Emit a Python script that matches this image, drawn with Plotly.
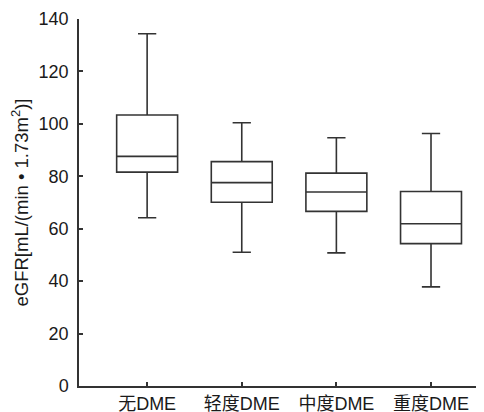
import plotly.graph_objects as go

categories = ["无DME", "轻度DME", "中度DME", "重度DME"]
lower = [64.2, 51.0, 50.8, 37.8]
q1 = [81.6, 70.1, 66.6, 54.3]
median = [87.6, 77.6, 74.0, 61.9]
q3 = [103.4, 85.6, 81.2, 74.2]
upper = [134.4, 100.4, 94.7, 96.3]
y_ticks = [0, 20, 40, 60, 80, 100, 120, 140]

line_col = "#333333"
font_fam = "Liberation Sans, Arial, Noto Sans CJK SC, sans-serif"

fig = go.Figure()
fig.add_trace(go.Box(
    x=categories, q1=q1, median=median, q3=q3,
    lowerfence=lower, upperfence=upper,
    boxpoints=False, whiskerwidth=0.3,
    fillcolor="rgba(255,255,255,0)",
    line=dict(color=line_col, width=1.6),
    showlegend=False,
))

# page body has an 8px margin, so the figure is sized/offset to compensate
fig.update_layout(
    width=476, height=404,
    margin=dict(l=71, r=0, t=11.4, b=26.4),
    paper_bgcolor="white", plot_bgcolor="white",
    boxmode="overlay", boxgap=0.08,
    font=dict(family=font_fam, size=18, color="#1a1a1a"),
    xaxis=dict(
        type="category", categoryorder="array", categoryarray=categories,
        range=[-0.72, 3.56],
        showline=True, linecolor=line_col, linewidth=1.5,
        ticks="inside", ticklen=4, tickwidth=1.5, tickcolor=line_col,
        showgrid=False, zeroline=False,
        tickfont=dict(size=18), ticklabelstandoff=1,
        automargin=False,
    ),
    yaxis=dict(
        range=[0, 140], tickvals=y_ticks,
        showline=True, linecolor=line_col, linewidth=1.5,
        ticks="inside", ticklen=4, tickwidth=1.5, tickcolor=line_col,
        showgrid=False, zeroline=False,
        tickfont=dict(size=18), ticklabelstandoff=5,
        automargin=False,
        title=dict(text="eGFR[mL/(min • 1.73m<sup>2</sup>)]", font=dict(size=18.5), standoff=11),
    ),
)

fig.write_html("out.html")
